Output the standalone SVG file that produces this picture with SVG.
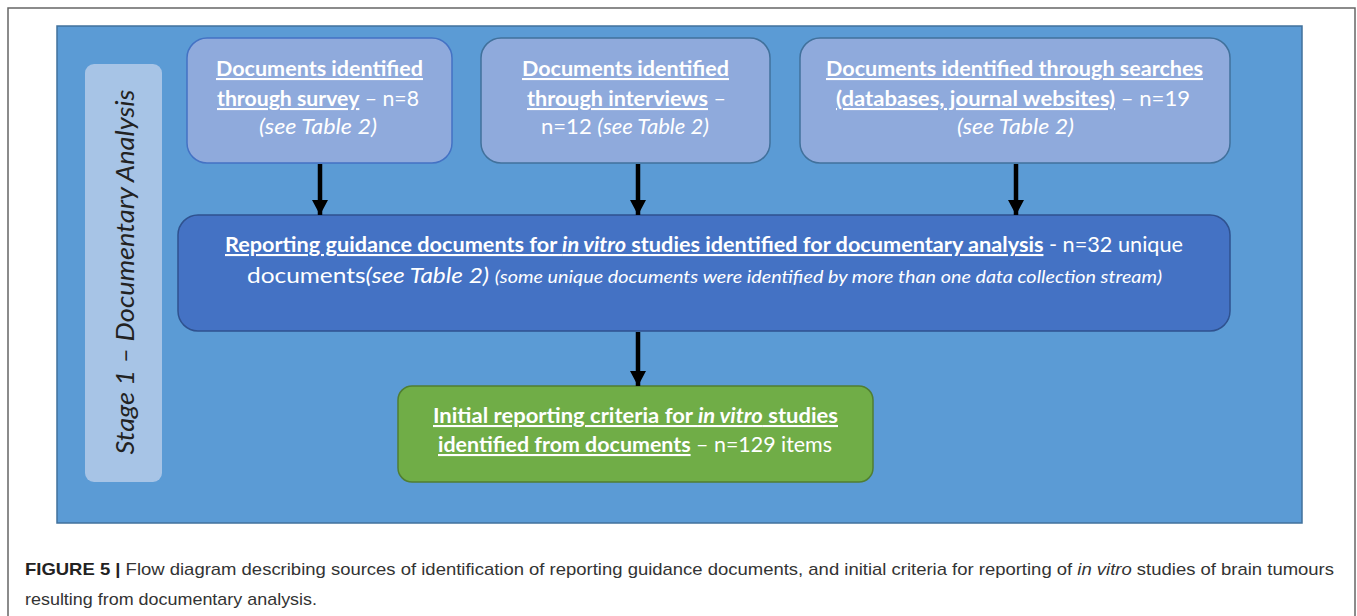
<svg xmlns="http://www.w3.org/2000/svg" width="1357" height="616" viewBox="0 0 1357 616">
  <style>
    .t { font-family: Lato, "Open Sans", sans-serif; fill: #ffffff; font-size: 21px; }
    .b { font-weight: bold; }
    .u { text-decoration: underline; }
    .i { font-style: italic; }
    .cap { font-family: "Liberation Sans", Arial, sans-serif; font-size: 17px; fill: #333333; }
    .src { fill: #8FAADC; stroke-width: 1.5; }
  </style>
  <defs>
    <marker id="ah" markerUnits="userSpaceOnUse" markerWidth="16" markerHeight="16" refX="15" refY="8" orient="auto">
      <path d="M0,0 L15,8 L0,16 Z" fill="#000"/>
    </marker>
  </defs>
  <rect x="0" y="0" width="1357" height="616" fill="#ffffff"/>
  <rect id="frame" x="8" y="8" width="1347" height="640" fill="none" stroke="#666666" stroke-width="1.5"/>
  <g id="panel">
    <rect x="57" y="26" width="1245" height="497" fill="#5B9BD5" stroke="#41719C" stroke-width="1.5"/>
  </g>
  <g id="stage">
    <rect x="85" y="64" width="77" height="418" rx="9" fill="#A7C4E6"/>
    <text class="t i" transform="translate(134,272) rotate(-90)" text-anchor="middle" style="fill:#222;font-size:25px" textLength="365" lengthAdjust="spacingAndGlyphs">Stage 1 – Documentary Analysis</text>
  </g>
  <g id="survey">
    <rect class="src" x="187" y="38" width="265" height="125" rx="20" stroke="#4472C4"/>
    <text class="t" x="319.5" y="76" text-anchor="middle" textLength="207" lengthAdjust="spacingAndGlyphs"><tspan class="b u">Documents identified</tspan></text>
    <text class="t" x="318" y="106" text-anchor="middle" textLength="202" lengthAdjust="spacingAndGlyphs"><tspan class="b u">through survey</tspan> – n=8</text>
    <text class="t i" x="318" y="134" text-anchor="middle" textLength="118" lengthAdjust="spacingAndGlyphs">(see Table 2)</text>
  </g>
  <g id="interviews">
    <rect class="src" x="481" y="38" width="289" height="125" rx="20" stroke="#41719C"/>
    <text class="t" x="625.5" y="76" text-anchor="middle" textLength="207" lengthAdjust="spacingAndGlyphs"><tspan class="b u">Documents identified</tspan></text>
    <text class="t" x="626.5" y="106" text-anchor="middle" textLength="199" lengthAdjust="spacingAndGlyphs"><tspan class="b u">through interviews</tspan> –</text>
    <text class="t" x="625" y="134" text-anchor="middle" textLength="168" lengthAdjust="spacingAndGlyphs">n=12 <tspan class="i">(see Table 2)</tspan></text>
  </g>
  <g id="searches">
    <rect class="src" x="800" y="38" width="430" height="125" rx="20" stroke="#41719C"/>
    <text class="t" x="1014.5" y="76" text-anchor="middle" textLength="377" lengthAdjust="spacingAndGlyphs"><tspan class="b u">Documents identified through searches</tspan></text>
    <text class="t" x="1013" y="106" text-anchor="middle" textLength="354" lengthAdjust="spacingAndGlyphs"><tspan class="b u">(databases, journal websites)</tspan> – n=19</text>
    <text class="t i" x="1015.5" y="134" text-anchor="middle" textLength="117" lengthAdjust="spacingAndGlyphs">(see Table 2)</text>
  </g>
  <g id="guidance">
    <rect x="178" y="215" width="1052" height="116" rx="20" fill="#4472C4" stroke="#2F528F" stroke-width="1.5"/>
    <text class="t" x="704" y="252" text-anchor="middle" textLength="958" lengthAdjust="spacingAndGlyphs"><tspan class="b u">Reporting guidance documents for </tspan><tspan class="b u i">in vitro</tspan><tspan class="b u"> studies identified for documentary analysis</tspan> - n=32 unique</text>
    <text class="t" x="704.5" y="283" text-anchor="middle" textLength="915" lengthAdjust="spacingAndGlyphs">documents<tspan class="i">(see Table 2) </tspan><tspan class="i" style="font-size:17px">(some unique documents were identified by more than one data collection stream)</tspan></text>
  </g>
  <g id="criteria">
    <rect x="398" y="386" width="475" height="96" rx="14" fill="#70AD47" stroke="#507E32" stroke-width="1.5"/>
    <text class="t" x="635.5" y="423" text-anchor="middle" textLength="405" lengthAdjust="spacingAndGlyphs"><tspan class="b u">Initial reporting criteria for </tspan><tspan class="b u i">in vitro</tspan><tspan class="b u"> studies</tspan></text>
    <text class="t" x="635" y="452" text-anchor="middle" textLength="394" lengthAdjust="spacingAndGlyphs"><tspan class="b u">identified from documents</tspan> – n=129 items</text>
  </g>
  <g id="connectors" stroke="#000" stroke-width="4.5" fill="none" marker-end="url(#ah)">
    <path d="M320,164 V215"/>
    <path d="M638,164 V215"/>
    <path d="M1016,164 V215"/>
    <path d="M638,332 V386"/>
  </g>
  <g id="caption">
    <text class="cap" x="25" y="575" textLength="1309" lengthAdjust="spacingAndGlyphs"><tspan style="font-weight:bold;fill:#222">FIGURE 5 | </tspan>Flow diagram describing sources of identification of reporting guidance documents, and initial criteria for reporting of <tspan font-style="italic">in vitro</tspan> studies of brain tumours</text>
    <text class="cap" x="25" y="605" textLength="292" lengthAdjust="spacingAndGlyphs">resulting from documentary analysis.</text>
  </g>
</svg>
